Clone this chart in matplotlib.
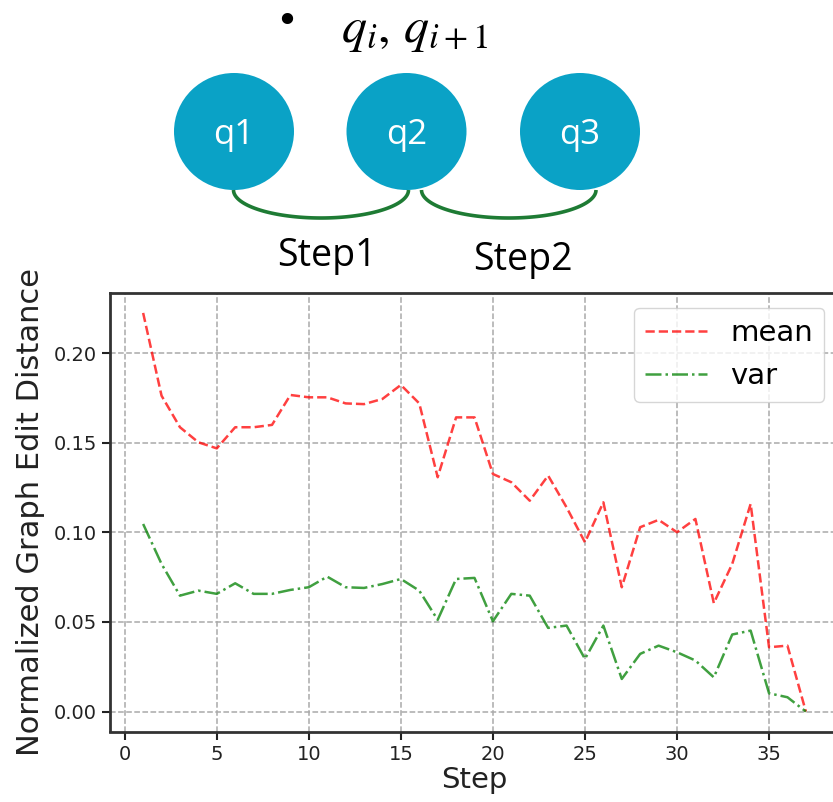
import numpy as np
import matplotlib
matplotlib.use("Agg")
import matplotlib.pyplot as plt
from matplotlib.patches import Ellipse

# ---- data ----
steps = list(range(1, 38))
mean_vals = [0.2225, 0.1763, 0.1587, 0.1503, 0.1469, 0.1587, 0.1587, 0.1600, 0.1767, 0.1754,
             0.1754, 0.1720, 0.1716, 0.1745, 0.1823, 0.1720, 0.1308, 0.1642, 0.1642, 0.1326,
             0.1280, 0.1177, 0.1317, 0.1140, 0.0945, 0.1168, 0.0694, 0.1029, 0.1070, 0.1001,
             0.1075, 0.0605, 0.0824, 0.1159, 0.0359, 0.0368, 0.0000]
var_vals = [0.1047, 0.0824, 0.0647, 0.0675, 0.0657, 0.0716, 0.0657, 0.0657, 0.0679, 0.0694,
            0.0753, 0.0694, 0.0690, 0.0712, 0.0740, 0.0675, 0.0512, 0.0740, 0.0746, 0.0504,
            0.0657, 0.0647, 0.0467, 0.0480, 0.0294, 0.0480, 0.0182, 0.0322, 0.0368, 0.0331,
            0.0285, 0.0191, 0.0430, 0.0452, 0.0102, 0.0080, 0.0000]
series_labels = ["mean", "var"]
yticks = [0.00, 0.05, 0.10, 0.15, 0.20]
xticks = [0, 5, 10, 15, 20, 25, 30, 35]

node_labels = ["q1", "q2", "q3"]
step_labels = ["Step1", "Step2"]

W, H = 833, 802
fig = plt.figure(figsize=(W / 100, H / 100), dpi=100)

# ---- diagram (pixel coordinates overlay) ----
dg = fig.add_axes([0, 0, 1, 1])
dg.set_xlim(0, W)
dg.set_ylim(H, 0)
dg.axis("off")

node_cx = [234, 406.5, 580]
node_cy = 131.5
node_w, node_h = 120, 117
node_color = "#0AA2C6"
for cx, lab in zip(node_cx, node_labels):
    dg.add_patch(Ellipse((cx, node_cy), node_w, node_h, color=node_color, lw=0))
    dg.text(cx, node_cy + 3, lab, color="white", ha="center", va="center",
            fontsize=25, family="Open Sans")

arc_ends = [(233.5, 408.5), (421.5, 596)]
arc_top, arc_depth = 190, 28
t = np.linspace(0, np.pi, 100)
for (xa, xb) in arc_ends:
    c = (xa + xb) / 2
    r = (xb - xa) / 2
    dg.plot(c - r * np.cos(t), arc_top + arc_depth * np.sin(t), color="#1E7B34", lw=2.6,
            solid_capstyle="butt")

step_xy = [(327, 256), (523, 260)]
for (sx, sy), lab in zip(step_xy, step_labels):
    dg.text(sx, sy, lab, ha="center", va="center", fontsize=27, family="Open Sans",
            color="black")

dg.text(287, 22, "\u2022", ha="center", va="center", fontsize=28, color="black")
dg.text(415, 30, r"$q_{i},\, q_{i+1}$", ha="center", va="center", fontsize=36,
        math_fontfamily="stix", color="black")

# ---- chart ----
left, right, bottom, top = 110, 839, 731.5, 293
ax = fig.add_axes([left / W, (H - bottom) / H, (right - left) / W, (bottom - top) / H])
ax.plot(steps, mean_vals, color="red", ls="--", lw=1.8, alpha=0.75, label=series_labels[0])
ax.plot(steps, var_vals, color="green", ls="-.", lw=1.8, alpha=0.75, label=series_labels[1])
ax.set_xticks(xticks)
ax.set_yticks(yticks)
ax.set_yticklabels([f"{v:.2f}" for v in yticks])
ax.tick_params(labelsize=14, length=6, width=1.5, colors="#222222")
ax.grid(True, ls="--", color="#aaaaaa", lw=1.1)
for s in ax.spines.values():
    s.set_linewidth(2)
    s.set_color("#333333")
ax.spines["right"].set_visible(False)
ax.set_xlabel("Step", fontsize=21, color="#222222", labelpad=2)
ax.set_ylabel("Normalized Graph Edit Distance", fontsize=22, color="#222222", labelpad=6)
ax.legend(loc="upper right", fontsize=21, handlelength=2.1)

fig.savefig("out.png", dpi=100)
